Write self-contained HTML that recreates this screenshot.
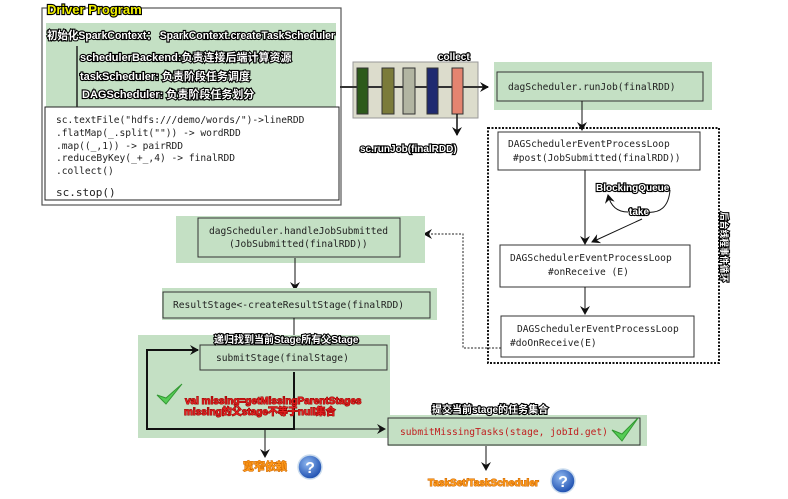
<!DOCTYPE html>
<html><head><meta charset="utf-8"><style>
body{margin:0;background:#fff}
svg{display:block}
.m{font-family:"DejaVu Sans Mono","Liberation Mono",monospace;font-size:9.6px;fill:#222}
.o{font-family:"Liberation Sans","Noto Sans CJK SC",sans-serif;font-weight:bold;paint-order:stroke;stroke:#000;stroke-width:2.2px;fill:#fff;font-size:11px}
</style></head><body>
<svg width="788" height="499" viewBox="0 0 788 499" xmlns="http://www.w3.org/2000/svg">
<defs>
<marker id="a" markerWidth="10" markerHeight="10" refX="8" refY="5" orient="auto" markerUnits="userSpaceOnUse"><path d="M0,0 L9,5 L0,10 L3,5z" fill="#111"/></marker>
<radialGradient id="q" cx="40%" cy="35%" r="65%"><stop offset="0" stop-color="#8fb8f0"/><stop offset="1" stop-color="#1d4fb0"/></radialGradient>
</defs>
<rect x="42" y="8" width="299" height="197" fill="#fff" stroke="#555" stroke-width="1.2"/>
<rect x="46" y="23" width="290" height="84" fill="#c4e0c4"/>
<text x="47" y="14" class="o" style="fill:#f0f000;font-size:13px">Driver Program</text>
<text x="47" y="39" class="o" textLength="288" lengthAdjust="spacingAndGlyphs">初始化SparkContext： SparkContext.createTaskScheduler</text>
<line x1="77" y1="46" x2="77" y2="107" stroke="#222" stroke-width="1.5"/>
<text x="80" y="61" class="o">schedulerBackend:负责连接后端计算资源</text>
<text x="80" y="80" class="o">taskScheduler: 负责阶段任务调度</text>
<text x="82" y="98" class="o">DAGScheduler: 负责阶段任务划分</text>
<rect x="45" y="107" width="294" height="93" fill="#fff" stroke="#222" stroke-width="1"/>
<text class="m" x="56" y="123">sc.textFile("hdfs:///demo/words/")->lineRDD</text>
<text class="m" x="56" y="136">.flatMap(_.split(""))  -&gt; wordRDD</text>
<text class="m" x="56" y="149">.map((_,1))            -&gt; pairRDD</text>
<text class="m" x="56" y="161">.reduceByKey(_+_,4)    -&gt; finalRDD</text>
<text class="m" x="56" y="174">.collect()</text>
<text class="m" x="56" y="196" style="font-size:11px">sc.stop()</text>
<rect x="353" y="62" width="125" height="56" fill="#dcdccc" stroke="#999"/>
<line x1="340" y1="87" x2="488" y2="87" stroke="#333" stroke-width="2" marker-end="url(#a)"/>
<rect x="357" y="68" width="11" height="46" fill="#2d5a1b" stroke="#333"/>
<rect x="382" y="68" width="12" height="46" fill="#7b7b3a" stroke="#333"/>
<rect x="403" y="68" width="12" height="46" fill="#b2b5a2" stroke="#333"/>
<rect x="427" y="68" width="11" height="46" fill="#1f2a70" stroke="#333"/>
<rect x="452" y="68" width="11" height="46" fill="#e48470" stroke="#333"/>
<text x="438" y="60" class="o" style="font-size:10px">collect</text>
<line x1="457" y1="114" x2="457" y2="135" stroke="#111" stroke-width="1.5" marker-end="url(#a)"/>
<text x="360" y="152" class="o" style="font-size:10px">sc.runJob(finalRDD)</text>
<rect x="494" y="62" width="218" height="48" fill="#c4e0c4"/>
<rect x="497" y="72" width="206" height="29" fill="#c4e0c4" stroke="#333"/>
<text class="m" x="508" y="90">dagScheduler.runJob(finalRDD)</text>
<line x1="582" y1="101" x2="582" y2="130" stroke="#111" marker-end="url(#a)"/>
<rect x="488" y="128" width="231" height="235" fill="none" stroke="#111" stroke-width="2" stroke-dasharray="2,1.5"/>
<text transform="translate(721,212) rotate(90)" class="o" style="font-size:9px" textLength="70" lengthAdjust="spacingAndGlyphs">后台线程事件循环</text>
<rect x="498" y="132" width="202" height="38" fill="#fff" stroke="#333"/>
<text class="m" x="508" y="147">DAGSchedulerEventProcessLoop</text>
<text class="m" x="513" y="161">#post(JobSubmitted(finalRDD))</text>
<line x1="585" y1="170" x2="585" y2="244" stroke="#111" marker-end="url(#a)"/>
<text x="596" y="191" class="o" style="font-size:10px">BlockingQueue</text>
<path d="M670,190 Q668,215 645,212 M628,212 Q612,212 608,195" fill="none" stroke="#111" marker-end="url(#a)"/>
<text x="629" y="215" class="o" style="font-size:10px">take</text>
<line x1="642" y1="219" x2="592" y2="242" stroke="#111" marker-end="url(#a)"/>
<rect x="500" y="245" width="190" height="42" fill="#fff" stroke="#333"/>
<text class="m" x="510" y="261">DAGSchedulerEventProcessLoop</text>
<text class="m" x="548" y="275">#onReceive (E)</text>
<line x1="585" y1="287" x2="585" y2="314" stroke="#111" marker-end="url(#a)"/>
<rect x="501" y="316" width="193" height="41" fill="#fff" stroke="#333"/>
<text class="m" x="517" y="332">DAGSchedulerEventProcessLoop</text>
<text class="m" x="510" y="346">#doOnReceive(E)</text>
<path d="M501,348 L463,348 L463,234 L424,234" fill="none" stroke="#222" stroke-dasharray="2,1.5" marker-end="url(#a)"/>
<rect x="176" y="216" width="249" height="47" fill="#c4e0c4"/>
<rect x="198" y="218" width="202" height="39" fill="#c4e0c4" stroke="#333"/>
<text class="m" x="209" y="234">dagScheduler.handleJobSubmitted</text>
<text class="m" x="229" y="247">(JobSubmitted(finalRDD))</text>
<line x1="295" y1="258" x2="295" y2="290" stroke="#111" marker-end="url(#a)"/>
<rect x="162" y="288" width="275" height="32" fill="#c4e0c4"/>
<rect x="163" y="292" width="267" height="26" fill="#c4e0c4" stroke="#333"/>
<text class="m" x="173" y="308">ResultStage&lt;-createResultStage(finalRDD)</text>
<line x1="294" y1="318" x2="294" y2="345" stroke="#111" marker-end="url(#a)"/>
<rect x="138" y="335" width="252" height="103" fill="#c4e0c4"/>
<rect x="200" y="345" width="187" height="25" fill="#c4e0c4" stroke="#333"/>
<text x="214" y="343" class="o" style="font-size:10px">递归找到当前Stage所有父Stage</text>
<text class="m" x="216" y="361">submitStage(finalStage)</text>
<path d="M294,372 L294,429 L147,429 L147,350 L198,350" fill="none" stroke="#111" stroke-width="2" marker-end="url(#a)"/>
<path d="M157,395 L166,404 L182,384 L166,398z" fill="#5c5" stroke="#393" stroke-width="1"/>
<text x="185" y="404" class="o" style="fill:#e02020;stroke:#900;stroke-width:1px;font-size:10px">val missing=getMissingParentStages</text>
<text x="184" y="415" class="o" style="fill:#e02020;stroke:#900;stroke-width:1px;font-size:10px">missing的父stage不等于null集合</text>
<line x1="294" y1="429" x2="385" y2="429" stroke="#111" marker-end="url(#a)"/>
<line x1="265" y1="429" x2="265" y2="457" stroke="#111" marker-end="url(#a)"/>
<text x="243" y="470" class="o" style="fill:#ff9a1a;stroke:#c60;stroke-width:1px;font-size:11px">宽窄依赖</text>
<circle cx="310" cy="467" r="12" fill="url(#q)" stroke="#cde" stroke-width="1.5"/>
<text x="310" y="473" text-anchor="middle" style="font:bold 16px 'Liberation Sans',sans-serif;fill:#fff">?</text>
<rect x="388" y="415" width="259" height="31" fill="#c4e0c4"/>
<rect x="388" y="418" width="252" height="27" fill="#c4e0c4" stroke="#333"/>
<text x="432" y="413" class="o" style="font-size:10px">提交当前stage的任务集合</text>
<text class="m" x="400" y="435" style="fill:#c02020">submitMissingTasks(stage, jobId.get)</text>
<path d="M612,430 L622,441 L638,418 L622,434z" fill="#5c5" stroke="#393" stroke-width="1"/>
<line x1="486" y1="446" x2="486" y2="470" stroke="#111" marker-end="url(#a)"/>
<text x="428" y="486" class="o" style="fill:#ff9a1a;stroke:#c60;stroke-width:1px;font-size:10px">TaskSet/TaskScheduler</text>
<circle cx="563" cy="481" r="12" fill="url(#q)" stroke="#cde" stroke-width="1.5"/>
<text x="563" y="487" text-anchor="middle" style="font:bold 16px 'Liberation Sans',sans-serif;fill:#fff">?</text>
</svg>
</body></html>
